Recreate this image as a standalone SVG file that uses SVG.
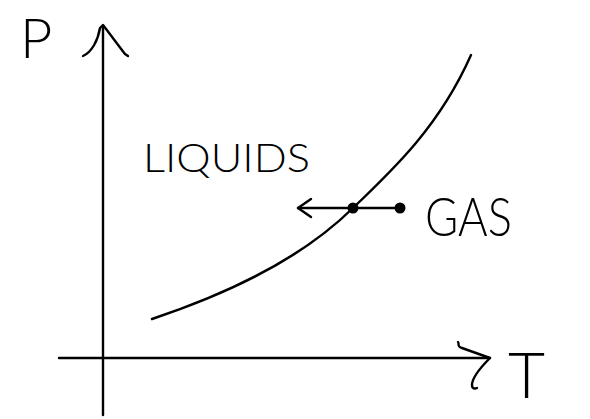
<svg xmlns="http://www.w3.org/2000/svg" width="590" height="419" viewBox="0 0 590 419">
<style>
.ink{fill:none;stroke:#000;stroke-width:2.4;stroke-linecap:round;stroke-linejoin:round}
.lbl{font-family:"Lato","Open Sans","Liberation Sans",sans-serif;font-weight:300;fill:#000}
</style>
<rect width="590" height="419" fill="#fff"/>
<g id="connectors">
<path class="ink" d="M103,415 L103,27"/>
<path class="ink" d="M83,56 C92,52 98,40 100,28 L103,25 C110,34 118,45 125,54 L128,56"/>
<path class="ink" d="M59,358 L490,358"/>
<path class="ink" d="M458,342 C460,344 456,346 462,348 L490,358 C482,366 472,378 472,385 C472,389 475,389 477,388"/>
<path class="ink" d="M152,319 C215,298 295,265 353,208 C395,168 440,125 471,55"/>
<path class="ink" d="M298,208 L400,208"/>
<path class="ink" d="M311,199 L298,208 L311,217"/>
</g>
<g id="point-liquid"><circle cx="353" cy="208" r="5.5" fill="#000"/></g>
<g id="point-gas"><circle cx="400" cy="208" r="5.5" fill="#000"/></g>
<g id="label-p"><text class="lbl" x="20" y="58" font-size="56">P</text></g>
<g id="label-t"><text class="lbl" x="508" y="398" font-size="64">T</text></g>
<g id="label-liquids"><text class="lbl" x="143" y="172" font-size="40" textLength="167" lengthAdjust="spacingAndGlyphs">LIQUIDS</text></g>
<g id="label-gas"><text class="lbl" x="425" y="236" font-size="54" textLength="87" lengthAdjust="spacingAndGlyphs">GAS</text></g>
</svg>
